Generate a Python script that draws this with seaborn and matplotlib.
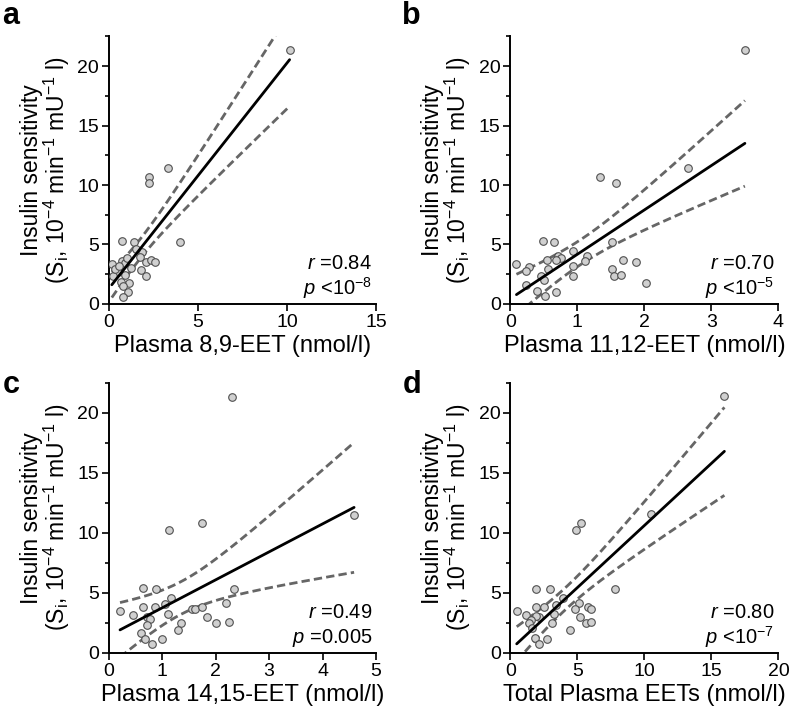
import numpy as np
import pandas as pd
import matplotlib
matplotlib.use("Agg")
import matplotlib.pyplot as plt
import seaborn as sns
from matplotlib.ticker import MultipleLocator

sns.set_style("ticks")
plt.rcParams['font.family'] = ['Liberation Sans', 'DejaVu Sans']
plt.rcParams['mathtext.fontset'] = 'custom'
plt.rcParams['mathtext.rm'] = 'Liberation Sans'
plt.rcParams['mathtext.it'] = 'Liberation Sans:italic'
for key in ['text.color', 'axes.labelcolor', 'xtick.color', 'ytick.color', 'axes.edgecolor']:
    plt.rcParams[key] = 'black'

# Panel a: 8,9-EET vs insulin sensitivity
eet89 = [10.15, 3.30, 2.23, 2.23, 0.73, 1.39, 4.00, 1.89, 1.74, 0.17, 0.73, 0.92,
         2.08, 2.36, 2.60, 0.54, 1.27, 1.82, 2.08, 0.24, 0.90, 0.71, 1.14, 0.80,
         1.08, 0.77, 0.35, 1.00, 0.60, 1.50]
si_a = [21.34, 11.44, 10.71, 10.13, 5.29, 5.23, 5.23, 4.40, 3.97, 3.33, 3.63, 3.41,
        3.55, 3.69, 3.52, 2.71, 3.05, 2.85, 2.35, 2.35, 2.43, 1.87, 1.74, 1.51,
        1.03, 0.61, 2.90, 3.90, 3.20, 4.60]

# Panel b: 11,12-EET
eet1112 = [3.50, 2.65, 1.33, 1.58, 0.49, 0.65, 1.52, 0.93, 0.71, 0.75, 1.15, 0.55,
           0.68, 1.11, 0.09, 0.28, 0.23, 0.56, 0.93, 1.52, 1.68, 1.87, 0.45, 0.50,
           0.93, 1.55, 1.65, 0.23, 2.02, 0.39, 0.68, 0.52]
si_b = [21.34, 11.44, 10.71, 10.15, 5.29, 5.23, 5.23, 4.45, 4.06, 3.86, 4.00, 3.72,
        3.66, 3.58, 3.33, 3.13, 2.74, 2.94, 3.16, 2.94, 3.72, 3.55, 2.38, 2.04,
        2.35, 2.38, 2.46, 1.59, 1.76, 1.06, 0.98, 0.64]

# Panel c: 14,15-EET
eet1415 = [2.31, 4.59, 1.74, 1.12, 0.64, 0.89, 2.34, 1.17, 1.05, 0.86, 0.64, 0.21,
           0.45, 0.71, 0.77, 1.11, 1.56, 1.62, 1.75, 2.19, 1.83, 2.00, 2.25, 1.36,
           1.30, 0.71, 0.61, 0.67, 0.99, 0.80]
si_c = [21.30, 11.50, 10.80, 10.20, 5.36, 5.33, 5.33, 4.53, 4.03, 3.78, 3.81, 3.47,
        3.17, 3.00, 2.78, 3.22, 3.67, 3.67, 3.81, 4.11, 3.00, 2.50, 2.56, 2.44,
        1.89, 2.28, 1.67, 1.19, 1.11, 0.72]

# Panel d: total EETs
eet_total = [15.97, 10.52, 5.30, 4.93, 1.89, 2.96, 7.84, 3.96, 3.43, 2.49, 1.89, 5.10,
             4.80, 5.82, 6.04, 0.47, 1.19, 3.28, 2.14, 1.90, 5.17, 1.57, 1.39, 3.13,
             5.65, 6.00, 1.64, 4.48, 1.84, 2.74, 2.14]
si_d = [21.39, 11.53, 10.81, 10.19, 5.35, 5.32, 5.32, 4.54, 4.01, 3.79, 3.82, 4.12,
        3.68, 3.84, 3.62, 3.45, 3.18, 3.23, 3.01, 3.10, 3.01, 2.73, 2.45, 2.51,
        2.51, 2.59, 2.03, 1.89, 1.20, 1.11, 0.70]

panels = [
    ("a", eet89, si_a, "Plasma 8,9-EET (nmol/l)", 15, 5, "0.84", "<10$^{-8}$"),
    ("b", eet1112, si_b, "Plasma 11,12-EET (nmol/l)", 4, 1, "0.70", "<10$^{-5}$"),
    ("c", eet1415, si_c, "Plasma 14,15-EET (nmol/l)", 5, 1, "0.49", "=0.005"),
    ("d", eet_total, si_d, "Total Plasma EETs (nmol/l)", 20, 5, "0.80", "<10$^{-7}$"),
]

# axes positions in figure fraction [left, bottom, width, height]
positions = [
    [0.136, 0.575, 0.334, 0.374],
    [0.638, 0.575, 0.335, 0.374],
    [0.136, 0.087, 0.334, 0.378],
    [0.638, 0.087, 0.335, 0.378],
]
letter_pos = [(0.003, 0.998), (0.503, 0.998), (0.003, 0.482), (0.503, 0.482)]

fig = plt.figure(figsize=(8, 7.15), dpi=100)

for (letter, xs, ys, xlabel, xmax, xstep, r_txt, p_txt), pos, lp in zip(panels, positions, letter_pos):
    ax = fig.add_axes(pos)
    df = pd.DataFrame({"x": xs, "y": ys})

    # 95% confidence band of the regression line
    x = df["x"].values
    y = df["y"].values
    n = len(x)
    slope, intercept = np.polyfit(x, y, 1)
    resid = y - (slope * x + intercept)
    s = np.sqrt(np.sum(resid ** 2) / (n - 2))
    grid = np.linspace(x.min(), x.max(), 200)
    se = s * np.sqrt(1 / n + (grid - x.mean()) ** 2 / np.sum((x - x.mean()) ** 2))
    fit = slope * grid + intercept
    ax.plot(grid, fit + 2.04 * se, color="#666666", lw=2, ls=(0, (3, 1.5)), zorder=2)
    ax.plot(grid, fit - 2.04 * se, color="#666666", lw=2, ls=(0, (3, 1.5)), zorder=2)

    sns.regplot(data=df, x="x", y="y", ax=ax, ci=None,
                scatter_kws=dict(s=30, color="#d0d0d0", edgecolors="#505050",
                                 linewidths=0.8, alpha=1, zorder=3),
                line_kws=dict(color="black", lw=2, zorder=4))

    ax.set_xlim(0, xmax)
    ax.set_ylim(0, 22.5)
    ax.xaxis.set_major_locator(MultipleLocator(xstep))
    ax.yaxis.set_major_locator(MultipleLocator(5))
    ax.yaxis.set_minor_locator(MultipleLocator(2.5))
    ax.tick_params(axis="both", which="major", direction="out", length=5, width=1.2,
                   labelsize=14, color="black", labelcolor="black", pad=2)
    ax.tick_params(axis="y", which="minor", direction="out", length=3, width=1.2, color="black")
    for side in ["top", "right"]:
        ax.spines[side].set_visible(False)
    for side in ["left", "bottom"]:
        ax.spines[side].set_linewidth(1.4)
        ax.spines[side].set_color("black")

    ax.set_xlabel(xlabel, fontsize=17, labelpad=3)
    ax.set_ylabel("Insulin sensitivity\n(S$_\\mathrm{i}$, 10$^{-4}$ min$^{-1}$ mU$^{-1}$ l)",
                  fontsize=16.5, labelpad=4, linespacing=0.95)

    ax.text(0.985, 0.13, "$\\it{r}$ =" + r_txt, transform=ax.transAxes,
            ha="right", va="baseline", fontsize=14.5)
    ax.text(0.985, 0.035, "$\\it{p}$ " + p_txt, transform=ax.transAxes,
            ha="right", va="baseline", fontsize=14.5)

    fig.text(lp[0], lp[1], letter, fontsize=22, fontweight="bold", ha="left", va="top")

fig.savefig("out.png", dpi=100)
